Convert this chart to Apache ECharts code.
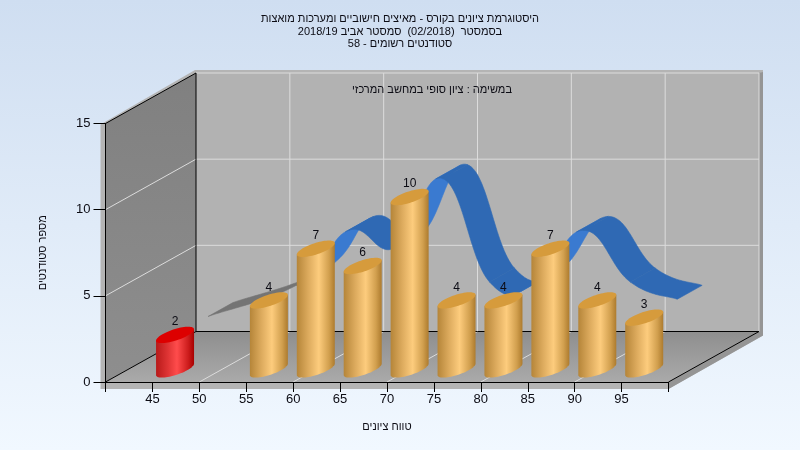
<!DOCTYPE html>
<html dir="rtl">
<head>
<meta charset="utf-8">
<style>html,body{margin:0;padding:0;background:#fff}#c{width:800px;height:450px}</style>
<script src="https://cdn.jsdelivr.net/npm/echarts@6/dist/echarts.min.js"></script>
</head>
<body>
<div id="c"></div>
<script>
const binStarts = [45, 50, 55, 60, 65, 70, 75, 80, 85, 90, 95];
const studentCounts = [2, 0, 4, 7, 6, 10, 4, 4, 7, 4, 3];
const titleLines = [
  'היסטוגרמת ציונים בקורס - מאיצים חישוביים ומערכות מואצות',
  'בסמסטר  (02/2018)  סמסטר אביב 2018/19',
  'סטודנטים רשומים - 58'
];
const subTitle = 'במשימה : ציון סופי במחשב המרכזי';
const xAxisName = 'טווח ציונים';
const yAxisName = 'מספר סטודנטים';

const FONT = '"Liberation Sans", Arial, sans-serif';
const TXT = '#0c0c14';
const DX = 90.5, DY = -50.5;           // projection of the chart's depth axis
const BAR_DEPTH = 0.25, RIB_D0 = 0.615, RIB_D1 = 0.89;
const RX = 19, SKEW = 5.7, RY = 5.9;
const TENSION = 0.65;
const X_MIN = 40, X_MAX = 100, Y_MAX = 15;

function deep(p, d) { return [p[0] + DX * d, p[1] + DY * d]; }

function poly(points, style, z) {
  return { type: 'polygon', shape: { points }, style, z2: z || 0, silent: true };
}
function seg(a, b, color, w) {
  return { type: 'line', shape: { x1: a[0], y1: a[1], x2: b[0], y2: b[1] }, style: { stroke: color, lineWidth: w || 1 }, silent: true };
}

function renderWalls(params, api) {
  const c = (x, y) => api.coord([x, y]);
  const f00 = c(X_MIN, 0), f01 = c(X_MIN, Y_MAX), f10 = c(X_MAX, 0);
  const b00 = deep(f00, 1), b01 = deep(f01, 1), b10 = deep(f10, 1), b11 = deep(c(X_MAX, Y_MAX), 1);
  const kids = [];
  // wall thickness
  kids.push(poly([[f01[0]-5, f01[1]+1], [b01[0]-1, b01[1]-3], [b11[0]+4, b11[1]-3], [b10[0]+4, b10[1]+4],
                  [f10[0], f10[1]+7], [f00[0]-5, f00[1]+7]], { fill: '#b4b4b4' }));
  kids.push(poly([[b11[0], b11[1]], [b11[0]+4, b11[1]-1], [b10[0]+4, b10[1]+4], [f10[0], f10[1]+7], [f10[0], f10[1]], [b10[0], b10[1]]], { fill: '#959595' }));
  // back wall
  kids.push(poly([b00, b01, b11, b10], { fill: '#b2b2b2' }));
  // left wall
  kids.push(poly([f00, f01, b01, b00], { fill: { type: 'linear', x: 0, y: 0, x2: 0, y2: 1, colorStops: [{ offset: 0, color: '#808080' }, { offset: 1, color: '#8e8e8e' }] } }));
  // floor
  kids.push(poly([f00, b00, b10, f10], { fill: { type: 'linear', x: 0, y: 0, x2: 0, y2: 1, colorStops: [{ offset: 0, color: '#8e8e8e' }, { offset: 1, color: '#aaaaaa' }] } }));
  // grid
  const G = '#dcdcdc';
  for (const y of [5, 10, 15]) {
    const p = c(X_MIN, y), q = c(X_MAX, y);
    if (y < 15) kids.push(seg(p, deep(p, 1), G));
    kids.push(seg(deep(p, 1), deep(q, 1), G));
  }
  for (let x = X_MIN + 10; x <= X_MAX; x += 10) {
    const p = c(x, 0), q = c(x, Y_MAX);
    if (x < X_MAX) kids.push(seg(p, deep(p, 1), G));
    kids.push(seg(deep(p, 1), deep(q, 1), G));
  }
  // frame edges
  const K = '#000';
  kids.push(seg(f00, b00, K), seg(f01, b01, K), seg(f10, b10, K), seg(b00, b01, K), seg(b00, b10, K));
  return { type: 'group', children: kids };
}

// ribbon: points that have a value, in front-plane pixels
function ribbonSegment(api, i) {
  const idx = studentCounts.map((v, k) => v > 0 ? k : -1).filter(k => k >= 0);
  const pts = idx.map(k => api.coord([binStarts[k], studentCounts[k]]));
  const n = pts.length;
  if (i >= n - 1) return null;
  const p0 = pts[Math.max(i - 1, 0)], p1 = pts[i], p2 = pts[i + 1], p3 = pts[Math.min(i + 2, n - 1)];
  const k = TENSION / 3;
  const c1 = [p1[0] + (p2[0] - p0[0]) * k, p1[1] + (p2[1] - p0[1]) * k];
  const c2 = [p2[0] - (p3[0] - p1[0]) * k, p2[1] - (p3[1] - p1[1]) * k];
  const curve = [];
  for (let s = 0; s <= 32; s++) {
    const t = s / 32, u = 1 - t;
    curve.push([
      u*u*u*p1[0] + 3*u*u*t*c1[0] + 3*u*t*t*c2[0] + t*t*t*p2[0],
      u*u*u*p1[1] + 3*u*u*t*c1[1] + 3*u*t*t*c2[1] + t*t*t*p2[1]
    ]);
  }
  return { curve, skipsEmpty: idx[i + 1] - idx[i] > 1 };
}

function renderRibbon(params, api) {
  const r = ribbonSegment(api, params.dataIndex);
  if (!r) return null;
  const kids = [];
  const sign = (a, b) => ((b[0] - a[0]) * DY - (b[1] - a[1]) * DX) > 0;
  let s = 0;
  const last = r.curve.length - 1;
  while (s < last) {
    const up = sign(r.curve[s], r.curve[s + 1]);
    let e = s + 1;
    while (e < last && sign(r.curve[e], r.curve[e + 1]) === up) e++;
    const run = r.curve.slice(s, e + 1);
    const col = r.skipsEmpty ? '#747474' : (up ? '#3a7ad0' : '#2f69b4');
    const outline = run.map(p => deep(p, RIB_D0)).concat(run.slice().reverse().map(p => deep(p, RIB_D1)));
    kids.push(poly(outline, { fill: col, stroke: col, lineWidth: 0.6 }, up ? 0 : 1));
    s = e;
  }
  return { type: 'group', children: kids };
}

function renderBar(params, api) {
  const v = api.value(1);
  if (!v) return null;
  const base = deep(api.coord([api.value(0), 0]), BAR_DEPTH);
  const top = deep(api.coord([api.value(0), v]), BAR_DEPTH);
  const first = params.dataIndex === 0;
  const ell = (c, t) => [c[0] + RX * Math.cos(t), c[1] - SKEW * Math.cos(t) - RY * Math.sin(t)];
  const shape = [ell(top, 0)];
  for (let s = 0; s <= 32; s++) shape.push(ell(base, -Math.PI * s / 32));
  shape.push(ell(top, Math.PI));
  const cap = [];
  for (let s = 0; s < 64; s++) cap.push(ell(top, 2 * Math.PI * s / 64));
  const stops = first
    ? [{ offset: 0, color: '#b81a1a' }, { offset: 0.3, color: '#dd3333' }, { offset: 0.55, color: '#ff4c4c' }, { offset: 0.85, color: '#cc1c1c' }, { offset: 1, color: '#a80000' }]
    : [{ offset: 0, color: '#b58539' }, { offset: 0.3, color: '#dcaa5d' }, { offset: 0.58, color: '#fdcc7d' }, { offset: 0.85, color: '#d19f4e' }, { offset: 1, color: '#ad7b2e' }];
  return { type: 'group', children: [
    poly(shape, { fill: { type: 'linear', x: 0, y: 0, x2: 1, y2: 0, colorStops: stops } }),
    poly(cap, { fill: first ? '#dd0000' : '#d69b3c' }),
    { type: 'text', silent: true, style: { x: top[0], y: top[1] - 13, text: String(v), align: 'center', verticalAlign: 'middle', font: '12px ' + FONT, fill: TXT } }
  ] };
}

const chart = echarts.init(document.getElementById('c'), null, { renderer: 'canvas' });
chart.setOption({
  animation: false,
  backgroundColor: { type: 'linear', x: 0, y: 0, x2: 0, y2: 1, colorStops: [{ offset: 0, color: '#cfdef1' }, { offset: 1, color: '#f1f8ff' }] },
  title: [
    { text: titleLines.join('\n'), left: 395, top: 8, textAlign: 'center',
      textStyle: { fontFamily: FONT, fontSize: 11, fontWeight: 'normal', color: TXT, lineHeight: 12.5 } },
    { text: subTitle, left: 427, top: 79, textAlign: 'center', z: 10,
      textStyle: { fontFamily: FONT, fontSize: 11, fontWeight: 'normal', color: TXT } }
  ],
  grid: { left: 105.5, right: 131.5, top: 123.5, bottom: 68, containLabel: false },
  xAxis: {
    type: 'value', min: X_MIN, max: X_MAX, interval: 5, z: 6,
    name: xAxisName, nameLocation: 'middle', nameGap: 39,
    nameTextStyle: { fontFamily: FONT, fontSize: 11, color: TXT },
    axisLine: { show: true, lineStyle: { color: '#000' } },
    axisTick: { show: true, length: 10, lineStyle: { color: '#000' } },
    axisLabel: { margin: 11, fontFamily: FONT, fontSize: 13, color: TXT, showMinLabel: true, showMaxLabel: true,
      formatter: v => binStarts.includes(v) ? String(v) : '' },
    splitLine: { show: false }
  },
  yAxis: {
    type: 'value', min: 0, max: Y_MAX, interval: 5, z: 6,
    name: yAxisName, nameLocation: 'middle', nameGap: 57, nameRotate: 90,
    nameTextStyle: { fontFamily: FONT, fontSize: 11, color: TXT },
    axisLine: { show: true, lineStyle: { color: '#000' } },
    axisTick: { show: true, length: 12, lineStyle: { color: '#000' } },
    axisLabel: { margin: 15, fontFamily: FONT, fontSize: 13, color: TXT },
    splitLine: { show: false }
  },
  series: [
    { type: 'custom', name: 'walls', coordinateSystem: 'cartesian2d', clip: false, z: 1, silent: true,
      renderItem: renderWalls, data: [[X_MIN, 0]], encode: { x: 0, y: 1 } },
    { type: 'custom', name: 'ribbon', coordinateSystem: 'cartesian2d', clip: false, z: 2, silent: true,
      renderItem: renderRibbon, data: binStarts.map((b, i) => [b, studentCounts[i]]), encode: { x: 0, y: 1 } },
    { type: 'custom', name: 'bars', coordinateSystem: 'cartesian2d', clip: false, z: 3, silent: true,
      renderItem: renderBar, data: binStarts.map((b, i) => [b, studentCounts[i]]), encode: { x: 0, y: 1 } }
  ]
});
</script>
</body>
</html>
